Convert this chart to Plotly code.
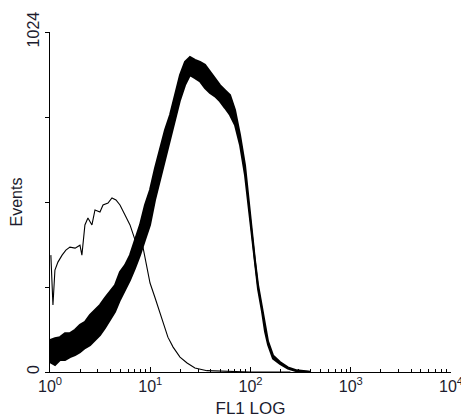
import plotly.graph_objects as go

# Isotype control (thin curve): FL1 values and event counts
iso_fl1 = [1.02, 1.05, 1.07, 1.12, 1.20, 1.32, 1.44, 1.58, 1.78, 1.99, 2.08, 2.23, 2.39, 2.62,
           2.81, 3.15, 3.38, 3.79, 4.15, 4.55, 4.99, 5.6, 6.28, 7.05, 7.9, 8.47, 9.29, 9.95,
           11.1, 12.5, 13.4, 15.0, 16.9, 19.8, 23.3, 27.9, 36.8, 53.2, 98.9, 250]
iso_events = [352, 217, 202, 307, 331, 352, 367, 376, 373, 382, 352, 443, 464, 443,
              488, 482, 503, 509, 524, 518, 503, 473, 443, 398, 390, 375, 307, 268,
              226, 178, 148, 105, 75, 45, 27, 12, 4, 2, 0, 0]

# Stained sample (thick, noisy curve): upper and lower envelope of the noise band
pos_fl1 = [1.0, 1.122, 1.258, 1.411, 1.583, 1.776, 1.992, 2.234, 2.506, 2.811, 3.153, 3.537,
           3.967, 4.45, 4.99, 5.60, 6.28, 7.05, 7.90, 8.86, 9.94, 11.15, 12.51, 14.03, 15.74,
           17.66, 19.81, 22.22, 24.92, 27.95, 31.36, 35.17, 39.45, 44.25, 49.64, 55.68, 62.46,
           70.06, 78.59, 88.14, 98.9, 111.0, 118.9, 130.3, 139.6, 149.6, 167.7, 196.9, 236.1,
           290, 392]
pos_upper = [96, 102, 105, 117, 117, 127, 142, 151, 172, 187, 202, 223,
             241, 262, 301, 322, 352, 398, 443, 503, 548, 614, 669, 729, 774,
             834, 894, 934, 949, 940, 934, 925, 905, 885, 864, 849, 834,
             789, 714, 623, 473, 335, 262, 192, 132, 92, 50, 30, 14,
             5, 1]
pos_lower = [30, 21, 36, 36, 45, 51, 60, 72, 81, 96, 111, 133,
             157, 181, 217, 247, 277, 313, 352, 398, 443, 518, 578, 639, 699,
             759, 819, 864, 894, 885, 875, 855, 840, 830, 815, 795, 774,
             744, 684, 593, 458, 320, 250, 182, 122, 82, 40, 24, 10,
             2, 0]

x_tickvals = [1, 10, 100, 1000, 10000]
x_ticktext = ["10<sup>0</sup>", "10<sup>1</sup>", "10<sup>2</sup>", "10<sup>3</sup>", "10<sup>4</sup>"]
y_tickvals = [0, 256, 512, 768, 1024]
y_ticktext = ["0", "", "", "", "1024"]

fig = go.Figure()
fig.add_trace(go.Scatter(x=iso_fl1, y=iso_events, mode="lines",
                         line=dict(color="black", width=1.1), showlegend=False))
fig.add_trace(go.Scatter(x=pos_fl1, y=pos_upper, mode="lines",
                         line=dict(color="black", width=2), showlegend=False))
fig.add_trace(go.Scatter(x=pos_fl1, y=pos_lower, mode="lines", fill="tonexty",
                         fillcolor="black",
                         line=dict(color="black", width=2), showlegend=False))

font = dict(family="Liberation Sans, Arial, sans-serif", size=16, color="#1c1c2e")
fig.update_layout(
    width=461, height=411,
    margin=dict(l=42, r=18, t=24, b=47),
    paper_bgcolor="white", plot_bgcolor="white",
    font=font,
    xaxis=dict(type="log", range=[0, 4], showgrid=False, zeroline=False, automargin=False,
               showline=True, linecolor="black", linewidth=1,
               tickmode="array", tickvals=x_tickvals, ticktext=x_ticktext,
               ticks="inside", ticklen=5, tickcolor="black",
               tickfont=dict(size=16),
               minor=dict(ticks="inside", ticklen=3, tickcolor="black", dtick="D1"),
               title=dict(text="FL1 LOG", standoff=7, font=dict(size=17))),
    yaxis=dict(range=[0, 1024], showgrid=False, zeroline=False, automargin=False,
               showline=True, linecolor="black", linewidth=1,
               tickmode="array", tickvals=y_tickvals, ticktext=y_ticktext,
               ticks="outside", ticklen=4, tickcolor="black", tickangle=-90,
               tickfont=dict(size=16),
               title=dict(text="Events", standoff=2, font=dict(size=16))),
)
fig.write_html("out.html")
